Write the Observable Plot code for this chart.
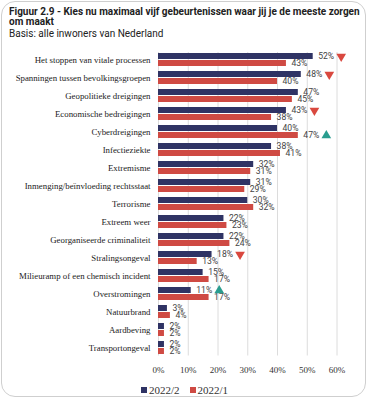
<!DOCTYPE html>
<html>
<head>
<meta charset="utf-8">
<script src="https://cdn.jsdelivr.net/npm/d3@7"></script>
<script src="https://cdn.jsdelivr.net/npm/@observablehq/plot@0.6"></script>
<style>
  html, body { margin: 0; padding: 0; background: #fff; }
  #wrap { position: relative; width: 369px; height: 400px; overflow: hidden; }
  #box { position: absolute; left: 1px; top: 1px; width: 365px; height: 396px; border: 1px solid #cfcfcf; border-radius: 14px; box-sizing: border-box; }
  #title { position: absolute; left: 9px; top: 7px; font-family: Roboto, sans-serif; font-weight: 700; font-size: 10px; line-height: 10.3px; color: #222; white-space: nowrap; }
  #subtitle { position: absolute; left: 9px; top: 27.5px; font-family: Roboto, sans-serif; font-size: 10px; line-height: 11px; color: #222; white-space: nowrap; }
  #chart { position: absolute; left: 0; top: 45px; }
  #legend { position: absolute; left: 0; width: 369px; top: 383px; text-align: center; font-family: "Liberation Serif", serif; font-size: 11px; color: #333; line-height: 14px; }
  #legend span.sw { display: inline-block; width: 6px; height: 6px; margin-right: 2px; vertical-align: 1px; }
  #legend span.item { margin: 0 5px; }
  [aria-label^="x-axis"] text { font-size: 9px; fill: #333; }
  [aria-label^="y-axis"] text { font-size: 8.8px; fill: #222; }
</style>
</head>
<body>
<div id="wrap">
  <div id="box"></div>
  <div id="title">Figuur 2.9 - Kies nu maximaal vijf gebeurtenissen waar jij je de meeste zorgen<br>om maakt</div>
  <div id="subtitle">Basis: alle inwoners van Nederland</div>
  <div id="chart"></div>
  <div id="legend"></div>
</div>
<script>
const categories = [
  "Het stoppen van vitale processen",
  "Spanningen tussen bevolkingsgroepen",
  "Geopolitieke dreigingen",
  "Economische bedreigingen",
  "Cyberdreigingen",
  "Infectieziekte",
  "Extremisme",
  "Inmenging/beïnvloeding rechtsstaat",
  "Terrorisme",
  "Extreem weer",
  "Georganiseerde criminaliteit",
  "Stralingsongeval",
  "Milieuramp of een chemisch incident",
  "Overstromingen",
  "Natuurbrand",
  "Aardbeving",
  "Transportongeval"
];
const series = ["2022/2", "2022/1"];
const values2022_2 = [52, 48, 47, 43, 40, 38, 32, 31, 30, 22, 22, 18, 15, 11, 3, 2, 2];
const values2022_1 = [43, 40, 45, 38, 47, 41, 31, 29, 32, 23, 24, 13, 17, 17, 4, 2, 2];
// significance markers: direction and the series row they sit next to
const markerDirection = ["down", "down", null, "down", "up", null, null, null, null, null, null, "down", null, "up", null, null, null];
const markerSeries = ["2022/2", "2022/2", null, "2022/2", "2022/1", null, null, null, null, null, null, "2022/2", null, "2022/2", null, null, null];
const xTicks = [0, 10, 20, 30, 40, 50, 60];

const colors = {"2022/2": "#2f3364", "2022/1": "#cf4a43"};
const markerColors = {down: "#d9483f", up: "#2a9d8f"};

const rows = [];
categories.forEach((c, i) => {
  rows.push({category: c, series: "2022/2", value: values2022_2[i]});
  rows.push({category: c, series: "2022/1", value: values2022_1[i]});
});
const markers = categories.map((c, i) => markerDirection[i] ? {
  category: c,
  series: markerSeries[i],
  direction: markerDirection[i],
  value: markerSeries[i] === "2022/2" ? values2022_2[i] : values2022_1[i]
} : null).filter(d => d);

const top2 = rows.filter(d => d.series === "2022/2");
const bot1 = rows.filter(d => d.series === "2022/1");
const mTop = markers.filter(d => d.series === "2022/2");
const mBot = markers.filter(d => d.series === "2022/1");

const dotOpts = (dy) => ({x: "value", y: "category", dx: 28, dy, symbol: "triangle", r: 3.6, stroke: "none",
  fill: d => markerColors[d.direction], rotate: d => d.direction === "down" ? 180 : 0});

const chart = Plot.plot({
  width: 369,
  height: 337,
  marginLeft: 158,
  marginRight: 32.5,
  marginTop: 7,
  marginBottom: 26.5,
  style: {fontFamily: "'Liberation Serif', serif", background: "transparent", color: "#333"},
  x: {domain: [0, 60], ticks: xTicks, tickFormat: d => d + "%", tickSize: 0, tickPadding: 11, label: null},
  y: {domain: categories, paddingInner: 0.28, paddingOuter: 0.07, tickSize: 0, tickPadding: 8, label: null},
  marks: [
    Plot.ruleX(xTicks, {stroke: "#dcdcdc", strokeWidth: 1}),
    Plot.barX(top2, {x: "value", y: "category", fill: colors["2022/2"], insetBottom: 7}),
    Plot.barX(bot1, {x: "value", y: "category", fill: colors["2022/1"], insetTop: 7}),
    Plot.text(top2, {x: "value", y: "category", text: d => d.value + "%", dx: 5, dy: -3.5, textAnchor: "start", fontFamily: "Roboto, sans-serif", fontSize: 8.6, fill: "#444"}),
    Plot.text(bot1, {x: "value", y: "category", text: d => d.value + "%", dx: 5, dy: 3.5, textAnchor: "start", fontFamily: "Roboto, sans-serif", fontSize: 8.6, fill: "#444"}),
    Plot.dot(mTop, dotOpts(-3.5)),
    Plot.dot(mBot, dotOpts(3.5))
  ]
});
document.getElementById("chart").appendChild(chart);

const legend = document.getElementById("legend");
legend.innerHTML = series.map(s => `<span class="item"><span class="sw" style="background:${colors[s]}"></span>${s}</span>`).join("");
</script>
</body>
</html>
